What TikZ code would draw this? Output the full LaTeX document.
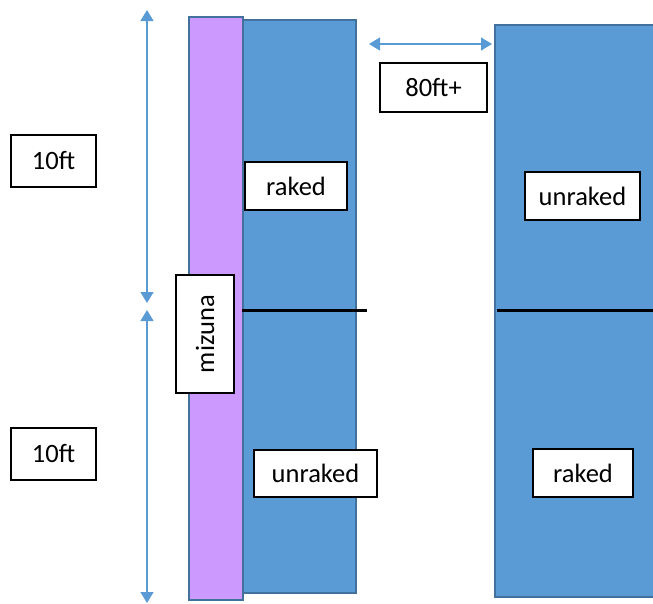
\documentclass[tikz,border=0pt]{standalone}
\usepackage{fontspec}
\setmainfont{Carlito}
\usetikzlibrary{arrows.meta}
\definecolor{bedblue}{HTML}{5B9BD5}
\definecolor{bededge}{HTML}{41719C}
\definecolor{mizpurple}{HTML}{CC99FF}
\definecolor{dimblue}{HTML}{5B9BD5}
\tikzset{
  bed/.style={draw=bededge, line width=1.5pt, fill=bedblue, inner sep=0pt, anchor=north west},
  strip/.style={draw=bededge, line width=1.5pt, fill=mizpurple, inner sep=0pt, anchor=north west},
  label box/.style={draw=black, line width=2pt, fill=white, inner sep=0pt, font=\fontsize{26.5}{30}\selectfont},
  dim/.style={draw=dimblue, line width=1.3pt, {Triangle[width=13pt,length=11pt]}-{Triangle[width=13pt,length=11pt]}},
  divider/.style={draw=black, line width=3pt}
}
\begin{document}
\begin{tikzpicture}[x=1pt,y=-1pt]
\useasboundingbox (0,0) rectangle (653,603);
% beds
\node[bed, minimum width=113pt, minimum height=573pt] (bedL) at (242,19) {};
\node[bed, minimum width=170pt, minimum height=572pt] (bedR) at (494,24) {};
\node[strip, minimum width=54pt, minimum height=583pt] (strip) at (188,16) {};
% dividers
\coordinate (dLa) at (242,310);
\coordinate (dLb) at (367,310);
\coordinate (dRa) at (497,310);
\coordinate (dRb) at (660,310);
\draw[divider] (dLa) -- (dLb);
\draw[divider] (dRa) -- (dRb);
% dimension arrows
\coordinate (v1) at (147,10);
\coordinate (v2) at (147,303);
\coordinate (v3) at (147,310);
\coordinate (v4) at (147,603);
\coordinate (h1) at (369,44);
\coordinate (h2) at (492,44);
\draw[dim] (v1) -- (v2);
\draw[dim] (v3) -- (v4);
\draw[dim] (h1) -- (h2);
% labels
\node[label box, minimum width=107pt, minimum height=49pt] (w80) at (433.5,87.5) {80ft+};
\node[label box, minimum width=85pt, minimum height=52pt] (t10a) at (53.5,161) {10ft};
\node[label box, minimum width=85pt, minimum height=52pt] (t10b) at (53.5,454) {10ft};
\node[label box, minimum width=102pt, minimum height=48pt] (rakedL) at (296,186) {raked};
\node[label box, minimum width=123pt, minimum height=47pt] (unrakedL) at (315.5,473.5) {unraked};
\node[label box, minimum width=115pt, minimum height=48pt] (unrakedR) at (582.5,196) {unraked};
\node[label box, minimum width=100pt, minimum height=48pt] (rakedR) at (583,473) {raked};
\node[label box, rotate=90, minimum width=118pt, minimum height=58pt] (miz) at (205,334) {mizuna};
\end{tikzpicture}
\end{document}
